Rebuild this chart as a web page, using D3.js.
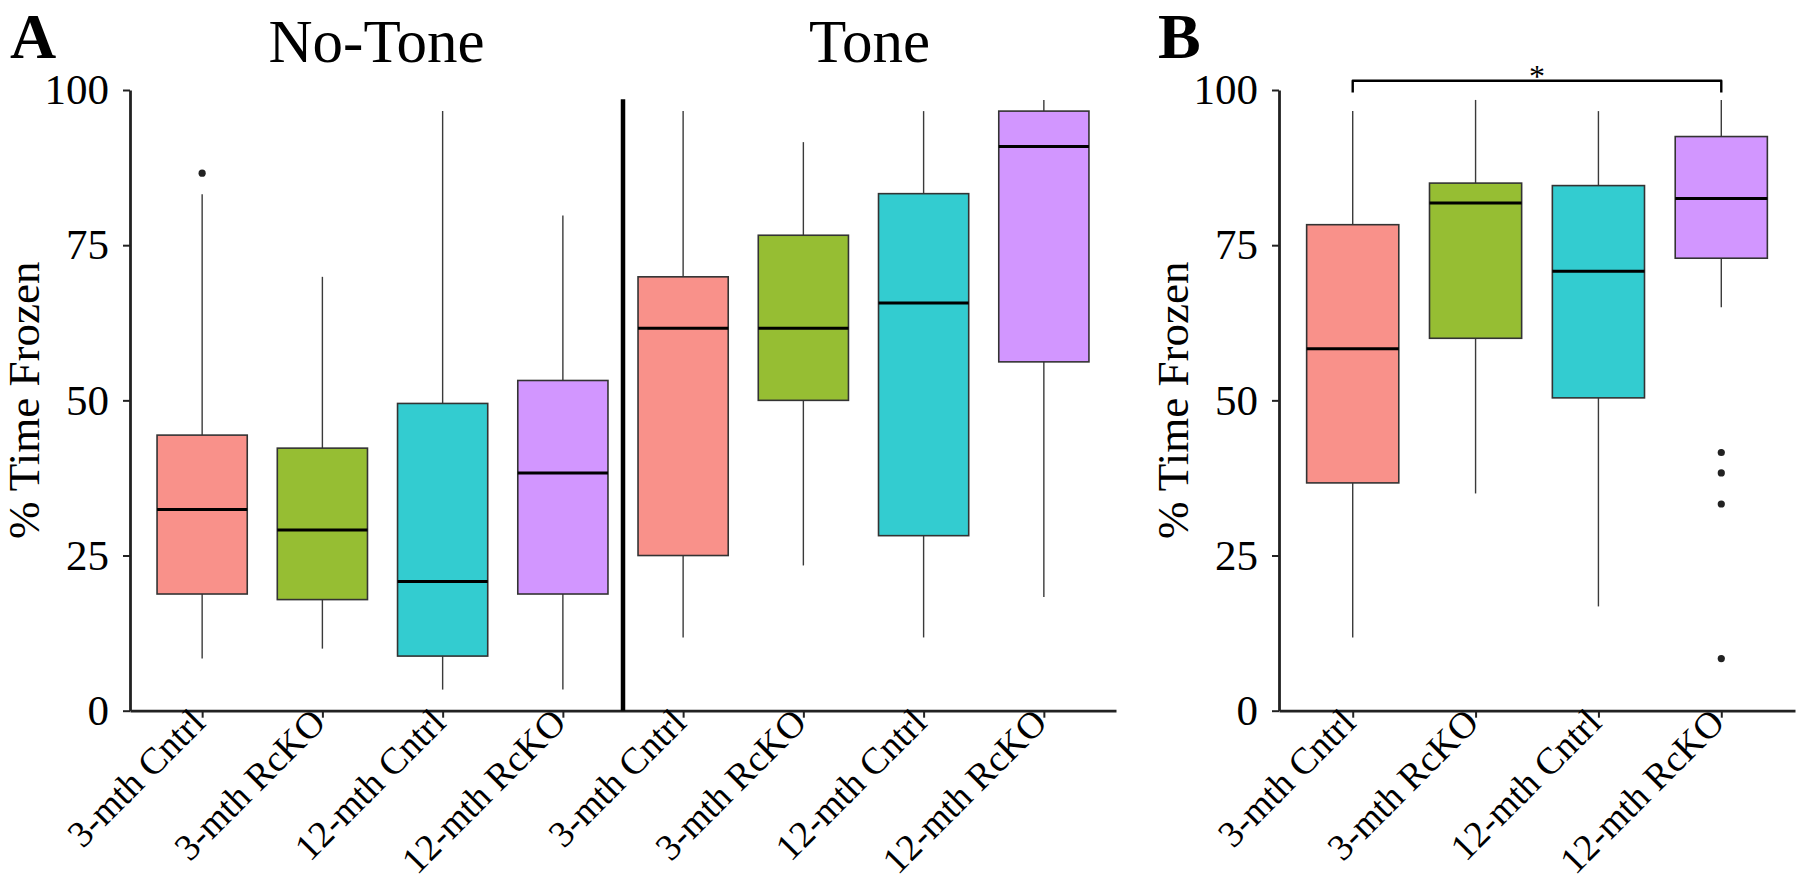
<!DOCTYPE html>
<html>
<head>
<meta charset="utf-8">
<script src="https://cdn.jsdelivr.net/npm/d3@7"></script>
<style>
  html, body { margin: 0; padding: 0; background: #fff; }
  svg { display: block; }
  text { font-family: "Liberation Serif", "Times New Roman", serif; fill: #000; }
</style>
</head>
<body>
<svg id="chart" width="1800" height="881"></svg>
<script>
// ---------------- DATA ----------------
const groups = ["3-mth Cntrl", "3-mth RcKO", "12-mth Cntrl", "12-mth RcKO"];
const conditions = ["No-Tone", "Tone"];
const yTicks = [0, 25, 50, 75, 100];
const palette = ["#F8766D", "#7CAE00", "#00BFC4", "#C77CFF"];

// Panel A: 8 boxes (No-Tone x4 groups, then Tone x4 groups)
const aLow    = [8.4, 10.0, 3.4, 3.4, 11.8, 23.4, 11.8, 18.3];
const aQ1     = [18.8, 17.9, 8.8, 18.8, 25.0, 50.0, 28.2, 56.2];
const aMedian = [32.4, 29.1, 20.8, 38.3, 61.6, 61.6, 65.7, 90.9];
const aQ3     = [44.4, 42.3, 49.5, 53.2, 69.9, 76.6, 83.3, 96.6];
const aHigh   = [83.2, 69.9, 96.6, 79.8, 96.6, 91.6, 96.6, 98.4];
const aOutliers = [[86.6], [], [], [], [], [], [], []];

// Panel B: 4 boxes
const bLow    = [11.8, 35.0, 16.8, 65.0];
const bQ1     = [36.7, 60.0, 50.4, 72.9];
const bMedian = [58.3, 81.8, 70.8, 82.5];
const bQ3     = [78.3, 85.0, 84.6, 92.5];
const bHigh   = [96.6, 98.4, 96.6, 98.4];
const bOutliers = [[], [], [], [41.6, 38.3, 33.3, 8.4]];

// significance bracket (panel B)
const sigFrom = "3-mth Cntrl", sigTo = "12-mth RcKO", sigLabel = "*";
const sigLevel = 101.5, sigDrop = 99.6;

// ---------------- LAYOUT ----------------
const svg = d3.select("#chart");
const y = d3.scaleLinear().domain([0, 100]).range([710.7, 90]);

const aKeys = [];
conditions.forEach(c => groups.forEach(g => aKeys.push(c + "|" + g)));
const xA = d3.scalePoint().domain(aKeys).range([130, 1116]).padding(0.6);
const xB = d3.scalePoint().domain(groups).range([1279, 1795]).padding(0.6);

const FONT_TICK = 43, FONT_XLAB = 37.5;

function drawPanel(x, keys, low, q1, med, q3, high, outs, axisX) {
  const g = svg.append("g");
  const step = x.step();
  const bw = step * 0.75;
  const boxes = keys.map((k, i) => ({
    k, i, low: low[i], q1: q1[i], med: med[i], q3: q3[i], high: high[i], outs: outs[i],
    color: palette[i % groups.length]
  }));
  const bg = g.selectAll("g.box").data(boxes).join("g").attr("class", "box");
  // whiskers
  bg.append("line")
    .attr("x1", d => x(d.k)).attr("x2", d => x(d.k))
    .attr("y1", d => y(d.q3)).attr("y2", d => y(d.high))
    .attr("stroke", "#3a3a3a").attr("stroke-width", 1.4);
  bg.append("line")
    .attr("x1", d => x(d.k)).attr("x2", d => x(d.k))
    .attr("y1", d => y(d.q1)).attr("y2", d => y(d.low))
    .attr("stroke", "#3a3a3a").attr("stroke-width", 1.4);
  // box
  bg.append("rect")
    .attr("x", d => x(d.k) - bw / 2).attr("width", bw)
    .attr("y", d => y(d.q3)).attr("height", d => y(d.q1) - y(d.q3))
    .attr("fill", d => d.color).attr("fill-opacity", 0.8)
    .attr("stroke", "#333").attr("stroke-width", 1.6);
  // median
  bg.append("line")
    .attr("x1", d => x(d.k) - bw / 2).attr("x2", d => x(d.k) + bw / 2)
    .attr("y1", d => y(d.med)).attr("y2", d => y(d.med))
    .attr("stroke", "#000").attr("stroke-width", 3);
  // outliers
  bg.selectAll("circle").data(d => d.outs.map(v => ({ v, k: d.k }))).join("circle")
    .attr("cx", d => x(d.k)).attr("cy", d => y(d.v)).attr("r", 3.6).attr("fill", "#222");

  // y axis
  const ya = g.append("g").attr("transform", `translate(${axisX},0)`)
    .call(d3.axisLeft(y).tickValues(yTicks).tickSize(7).tickSizeOuter(0).tickPadding(14));
  ya.select(".domain").attr("stroke", "#222").attr("stroke-width", 2.8);
  ya.selectAll(".tick line").attr("stroke", "#222").attr("stroke-width", 2);
  ya.selectAll(".tick text").attr("font-size", FONT_TICK)
    .attr("font-family", "Liberation Serif").attr("fill", "#000");

  // x axis
  const xa = g.append("g").attr("transform", `translate(0,${y(0)})`)
    .call(d3.axisBottom(x).tickSize(7).tickSizeOuter(0).tickFormat(""));
  xa.select(".domain").attr("stroke", "#222").attr("stroke-width", 2.8);
  xa.selectAll(".tick line").attr("stroke", "#222").attr("stroke-width", 2);
  g.selectAll("text.xlab").data(keys).join("text").attr("class", "xlab")
    .attr("transform", k => `translate(${x(k) + 5},${y(0) + 14}) rotate(-45)`)
    .attr("text-anchor", "end").attr("font-size", FONT_XLAB)
    .text(k => k.includes("|") ? k.split("|")[1] : k);

  // y title
  svg.append("text")
    .attr("transform", `translate(${axisX - 91},${(y(0) + y(100)) / 2}) rotate(-90)`)
    .attr("text-anchor", "middle").attr("font-size", 45)
    .text("% Time Frozen");
  return g;
}

drawPanel(xA, aKeys, aLow, aQ1, aMedian, aQ3, aHigh, aOutliers, 130);
drawPanel(xB, groups, bLow, bQ1, bMedian, bQ3, bHigh, bOutliers, 1279);

// divider between No-Tone and Tone
const divX = (xA(aKeys[3]) + xA(aKeys[4])) / 2;
svg.append("line").attr("x1", divX).attr("x2", divX)
  .attr("y1", y(0)).attr("y2", y(98.5))
  .attr("stroke", "#000").attr("stroke-width", 4.5);

// condition titles
const leftMid = (xA.range()[0] + divX) / 2;
const rightMid = (divX + xA.range()[1]) / 2;
svg.append("text").attr("x", leftMid).attr("y", 62).attr("text-anchor", "middle")
  .attr("font-size", 61).text(conditions[0]);
svg.append("text").attr("x", rightMid).attr("y", 62).attr("text-anchor", "middle")
  .attr("font-size", 61).text(conditions[1]);

// panel letters
svg.append("text").attr("x", 10).attr("y", 58).attr("font-size", 64).attr("font-weight", "bold").text("A");
svg.append("text").attr("x", 1158).attr("y", 58).attr("font-size", 64).attr("font-weight", "bold").text("B");

// significance bracket
const bx1 = xB(sigFrom), bx2 = xB(sigTo);
svg.append("path")
  .attr("d", `M${bx1},${y(sigDrop)} L${bx1},${y(sigLevel)} L${bx2},${y(sigLevel)} L${bx2},${y(sigDrop)}`)
  .attr("fill", "none").attr("stroke", "#000").attr("stroke-width", 2.4).attr("stroke-linejoin", "round");
svg.append("text").attr("x", (bx1 + bx2) / 2).attr("y", y(sigLevel) + 6)
  .attr("text-anchor", "middle").attr("font-size", 32).text(sigLabel);
</script>
</body>
</html>
